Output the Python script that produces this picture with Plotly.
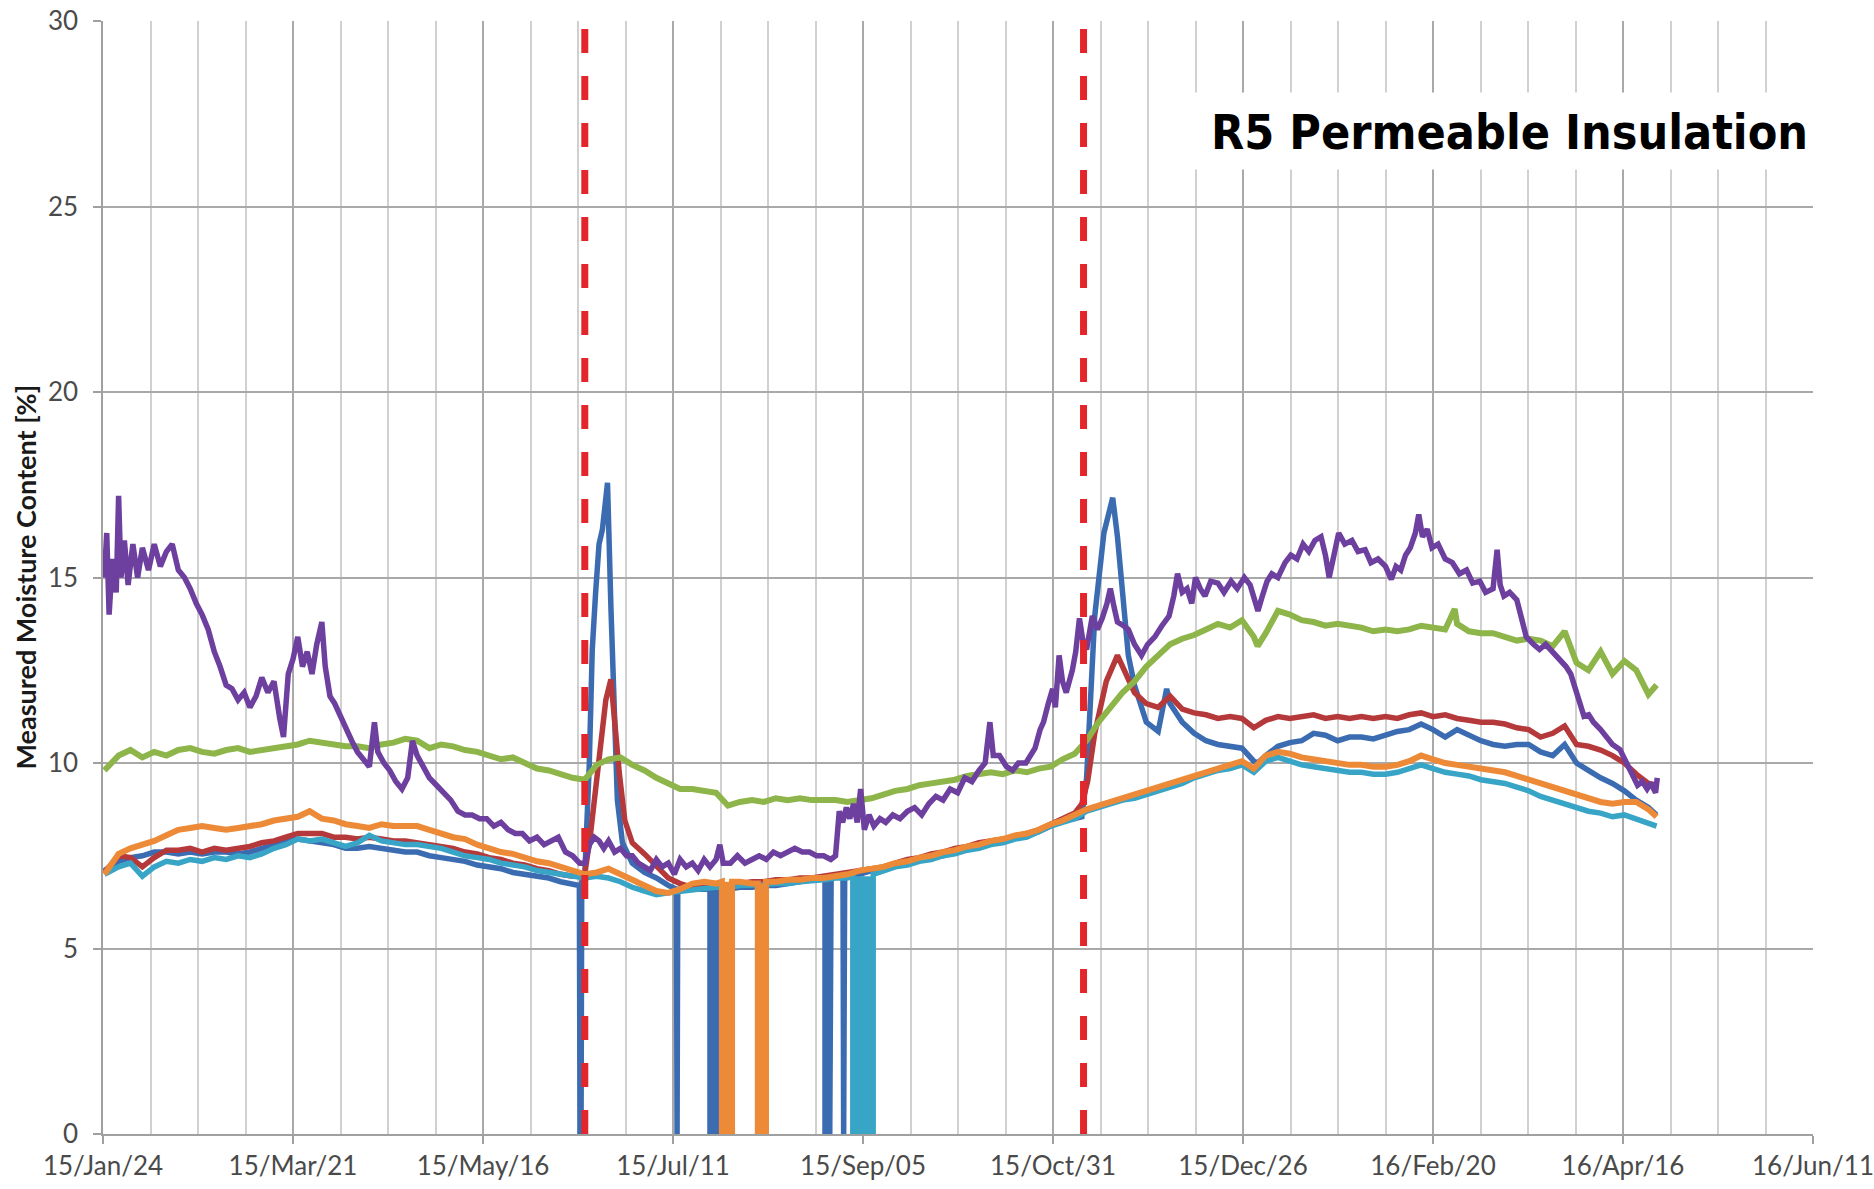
import pandas as pd
import plotly.graph_objects as go

START = "2015-01-24"
END = "2016-06-11"
EVENT_DATES = ["2015-06-15", "2015-11-09"]
TITLE = "R5 Permeable Insulation"
Y_TITLE = "Measured Moisture Content [%]"

# sample positions (days after 2015-01-24)
GRID_DAYS = [
    0.4, 4.6, 8.1, 11.6, 15.1, 18.7, 22.2, 25.7, 29.2, 32.8,
    36.3, 39.8, 43.3, 46.8, 50.4, 53.9, 57.4, 60.9, 64.5, 68.0,
    71.5, 75.0, 78.5, 82.1, 85.6, 89.1, 92.6, 96.2, 99.7, 103.2,
    106.7, 110.3, 113.8, 117.3, 120.8, 124.3, 127.9, 131.4, 134.9, 138.4,
    142.0, 145.5, 149.0, 152.5, 156.0, 159.6, 163.1, 166.6, 170.1, 173.7,
    177.2, 180.7, 184.2, 187.7, 191.3, 194.8, 198.3, 201.8, 205.4, 208.9,
    212.4, 215.9, 219.4, 223.0, 226.5, 230.0, 233.5, 237.1, 240.6, 244.1,
    247.6, 251.1, 254.7, 258.2, 261.7, 265.2, 268.8, 272.3, 275.8, 279.3,
    282.8, 286.4, 289.9, 293.4, 296.9, 300.5, 304.0, 307.5, 311.0, 314.5,
    318.1, 321.6, 325.1, 328.6, 332.2, 335.7, 339.2, 342.7, 346.3, 349.8,
    353.3, 356.8, 360.3, 363.9, 367.4, 370.9, 374.4, 378.0, 381.5, 385.0,
    388.5, 392.0, 395.6, 399.1, 402.6, 406.1, 409.7, 413.2, 416.7, 420.2,
    423.7, 427.3, 430.8, 434.3, 437.8, 441.4, 444.9, 448.4, 451.9, 455.5,
    457.9,
]

BLUE_VALS = [
    7.1, 7.35, 7.45, 7.5, 7.6, 7.6, 7.55, 7.6, 7.55, 7.6,
    7.6, 7.55, 7.6, 7.7, 7.8, 7.9, 7.95, 7.9, 7.85, 7.8,
    7.7, 7.7, 7.75, 7.7, 7.65, 7.6, 7.6, 7.5, 7.45, 7.4,
    7.35, 7.25, 7.2, 7.15, 7.05, 7.0, 6.95, 6.9, 6.8, 6.75,
    7.0, None, None, None, 7.3, 7.05, 6.9, 6.7, 6.6, 6.6,
    6.6, None, 6.6, 6.65, 6.65, 6.7, 6.7, 6.75, 6.8, 6.85,
    6.9, 6.95, 7.0, 7.0, 7.1, 7.15, 7.25, 7.3, 7.4, 7.45,
    7.5, 7.6, 7.7, 7.75, 7.85, 7.9, 8.0, 8.05, 8.15, 8.3,
    8.45, 8.5, None, None, None, None, 12.1, 11.1, 10.85, 11.6,
    11.1, 10.8, 10.6, 10.5, 10.45, 10.4, 10.05, 10.2, 10.45, 10.55,
    10.6, 10.8, 10.75, 10.6, 10.7, 10.7, 10.65, 10.75, 10.85, 10.9,
    11.05, 10.9, 10.7, 10.9, 10.75, 10.6, 10.5, 10.45, 10.5, 10.5,
    10.3, 10.2, 10.5, 10.0, 9.8, 9.6, 9.45, 9.25, 9.0, 8.8,
    8.6,
]
BLUE_EXTRA_DAYS = [
    140.4, 140.6, 140.9, 141.1,
    143.3, 144.2, 145.2, 146.2, 147.2, 148.0, 148.7, 149.7, 150.7, 151.6, 153.1,
    169.0, 169.2, 169.4,
    178.9, 178.9, 179.5, 180.1, 180.7, 181.3, 181.3,
    212.8, 212.8, 213.5, 214.2, 214.6,
    218.1, 218.3, 218.6,
    288.5, 289.9, 292.3, 295.0, 297.6, 299.0, 300.9, 302.2, 313.5, 340.3,
]
BLUE_EXTRA_VALS = [
    6.7, 0, 0, 6.8,
    9.9, 13.05, 14.6, 15.9, 16.3, 16.9, 17.55, 14.2, 10.8, 9.0, 7.85,
    6.6, 0, 6.6,
    6.6, 0, 6.6, 0, 6.6, 0, 6.6,
    6.95, 0, 6.95, 0, 6.95,
    7.0, 0, 7.0,
    8.55, 9.6, 13.96, 16.2, 17.15, 16.1, 13.96, 12.9, 12.0, 10.0,
]

RED_VALS = [
    7.05, 7.5, 7.45, 7.2, 7.45, 7.65, 7.65, 7.7, 7.6, 7.7,
    7.65, 7.7, 7.75, 7.85, 7.9, 8.0, 8.1, 8.1, 8.1, 8.0,
    8.0, 7.95, 8.0, 7.95, 7.9, 7.9, 7.85, 7.8, 7.75, 7.7,
    7.6, 7.55, 7.45, 7.4, 7.3, 7.25, 7.15, 7.1, 7.0, 6.95,
    7.0, None, None, None, 7.85, 7.55, 7.2, 6.9, 6.75, 6.65,
    6.65, 6.75, 6.7, 6.75, 6.8, 6.8, 6.85, 6.85, 6.9, 6.9,
    6.95, 7.0, 7.05, 7.1, 7.15, 7.2, 7.3, 7.4, 7.45, 7.55,
    7.6, 7.7, 7.75, 7.85, 7.9, 7.95, 8.0, 8.1, 8.2, 8.35,
    8.5, 8.65, None, None, None, None, 11.9, 11.6, 11.5, 11.8,
    11.45, 11.35, 11.3, 11.2, 11.25, 11.2, 10.95, 11.15, 11.25, 11.2,
    11.25, 11.3, 11.2, 11.25, 11.2, 11.25, 11.2, 11.25, 11.2, 11.3,
    11.35, 11.25, 11.3, 11.2, 11.15, 11.1, 11.1, 11.05, 10.95, 10.9,
    10.7, 10.8, 11.0, 10.5, 10.45, 10.35, 10.2, 10.0, 9.7, 9.45,
    9.4,
]
RED_EXTRA_DAYS = [143.7, 146.2, 148.2, 149.7, 150.6, 152.2, 153.8,
                  288.5, 290.2, 292.3, 295.7, 299.0, 302.2]
RED_EXTRA_VALS = [8.1, 10.1, 11.7, 12.25, 11.25, 9.7, 8.45,
                  8.9, 9.5, 10.8, 12.2, 12.9, 12.3]

GREEN_VALS = [
    9.8, 10.2, 10.35, 10.15, 10.3, 10.2, 10.35, 10.4, 10.3, 10.25,
    10.35, 10.4, 10.3, 10.35, 10.4, 10.45, 10.5, 10.6, 10.55, 10.5,
    10.45, 10.45, 10.4, 10.5, 10.55, 10.65, 10.6, 10.4, 10.5, 10.45,
    10.35, 10.3, 10.2, 10.1, 10.15, 10.0, 9.85, 9.8, 9.7, 9.6,
    9.55, 9.95, 10.1, 10.15, 9.95, 9.8, 9.6, 9.45, 9.3, 9.3,
    9.25, 9.2, 8.85, 8.95, 9.0, 8.95, 9.05, 9.0, 9.05, 9.0,
    9.0, 9.0, 8.95, 9.0, 9.05, 9.15, 9.25, 9.3, 9.4, 9.45,
    9.5, 9.55, 9.65, 9.7, 9.75, 9.7, 9.8, 9.75, 9.85, 9.9,
    10.1, 10.25, 10.6, 11.1, 11.5, 11.9, 12.2, 12.6, 12.9, 13.2,
    13.35, 13.45, 13.6, 13.75, 13.65, 13.85, 13.4, 13.5, 14.1, 14.0,
    13.85, 13.8, 13.7, 13.75, 13.7, 13.65, 13.55, 13.6, 13.55, 13.6,
    13.7, 13.65, 13.6, 13.75, 13.55, 13.5, 13.5, 13.4, 13.3, 13.35,
    13.3, 13.15, 13.55, 12.7, 12.5, 13.0, 12.4, 12.75, 12.5, 11.85,
    12.1,
]
GREEN_EXTRA_DAYS = [340.3, 398.4]
GREEN_EXTRA_VALS = [13.15, 14.15]

PURPLE_DAYS = [
    0.4, 1.1, 1.8, 2.8, 3.9, 4.6, 5.3, 6.3, 7.4, 8.8, 10.2, 11.6, 13.4, 15.1, 16.9,
    18.7, 20.4, 22.2, 24.0, 25.7, 27.5, 29.2, 31.0, 32.8, 34.5, 36.3, 38.0, 39.8,
    41.6, 43.3, 45.1, 46.8, 48.6, 50.4, 52.1, 53.2, 54.6, 56.0, 57.4, 58.8, 60.2,
    61.6, 63.0, 64.5, 65.5, 66.9, 68.3, 69.7, 71.5, 73.3, 75.0, 76.8, 78.5, 80.0,
    81.0, 82.8, 84.5, 86.3, 88.1, 89.8, 91.2, 92.6, 94.4, 96.2, 98.3, 100.4, 102.5,
    104.6, 106.7, 108.8, 111.0, 113.1, 115.2, 117.3, 119.4, 121.5, 123.6, 125.7,
    127.9, 130.0, 132.1, 134.2, 136.3, 138.4, 140.5, 142.0, 143.4, 144.8, 146.2,
    147.6, 149.0, 150.8, 152.5, 154.3, 156.0, 157.8, 159.6, 161.3, 163.1, 164.8,
    166.6, 168.4, 170.1, 171.9, 173.7, 175.4, 177.2, 178.9, 180.7, 181.8, 182.8,
    184.9, 187.0, 189.2, 191.3, 193.4, 195.5, 197.6, 199.7, 201.8, 203.9, 206.1,
    208.2, 210.3, 212.4, 214.5, 215.9, 217.0, 218.0, 219.1, 220.1, 221.2, 222.3,
    223.3, 224.4, 225.8, 227.2, 229.0, 230.7, 232.8, 234.9, 237.1, 239.2, 241.3,
    243.4, 245.5, 247.6, 249.7, 251.9, 254.0, 256.1, 258.2, 260.0, 261.4, 262.4,
    264.2, 266.3, 268.1, 269.8, 272.0, 273.7, 274.7, 276.2, 277.2, 278.6, 279.9,
    280.7, 281.8, 282.8, 283.9, 285.7, 286.7, 287.8, 288.8, 289.9, 291.6, 293.1,
    294.5, 295.9, 296.9, 298.0, 299.0, 300.8, 302.2, 304.0, 306.1, 307.9, 310.0,
    312.1, 314.2, 315.6, 316.7, 318.1, 319.5, 320.9, 322.0, 323.4, 324.8, 326.5,
    328.6, 330.4, 332.5, 334.3, 336.4, 338.1, 339.2, 340.4, 341.7, 343.1, 344.5,
    346.3, 348.4, 350.1, 351.9, 353.7, 355.4, 357.2, 359.0, 360.3, 361.4, 362.8,
    364.2, 366.0, 368.1, 369.9, 372.0, 373.7, 375.8, 378.0, 379.7, 381.1, 382.5,
    383.9, 385.3, 386.8, 387.8, 388.9, 390.3, 391.7, 393.5, 395.6, 397.7, 399.8,
    401.9, 403.7, 405.8, 407.5, 409.7, 410.9, 411.8, 412.9, 414.6, 416.7, 418.1,
    419.5, 421.6, 423.4, 425.2, 427.3, 429.1, 431.2, 432.6, 434.0, 435.4, 436.5,
    437.9, 439.3, 441.4, 443.2, 444.9, 447.1, 448.4, 449.8, 451.2, 452.3, 453.7,
    455.1, 456.2, 457.6, 458.1,
]
PURPLE_VALS = [
    15.0, 16.2, 14.0, 15.5, 14.6, 17.2, 15.0, 16.0, 14.8, 15.9, 15.0, 15.8, 15.2, 15.9, 15.3,
    15.7, 15.9, 15.2, 15.0, 14.7, 14.3, 14.0, 13.6, 13.0, 12.6, 12.1, 12.0, 11.7,
    11.9, 11.5, 11.8, 12.3, 11.9, 12.2, 11.2, 10.7, 12.4, 12.8, 13.4, 12.6, 13.0,
    12.4, 13.2, 13.8, 12.6, 11.8, 11.6, 11.3, 11.0, 10.6, 10.3, 10.1, 9.9, 11.1,
    10.3, 10.0, 9.8, 9.5, 9.3, 9.6, 10.6, 10.2, 9.9, 9.6, 9.4, 9.2, 9.0,
    8.7, 8.6, 8.6, 8.5, 8.5, 8.3, 8.4, 8.2, 8.1, 8.1, 7.9,
    8.0, 7.8, 7.9, 8.0, 7.6, 7.5, 7.3, 7.3, 7.8, 8.0, 7.9,
    7.7, 7.9, 7.6, 7.7, 7.5, 7.5, 7.3, 7.2, 7.1, 7.4, 7.2,
    7.3, 7.0, 7.4, 7.2, 7.3, 7.1, 7.4, 7.2, 7.4, 7.8, 7.3,
    7.3, 7.5, 7.3, 7.4, 7.5, 7.4, 7.6, 7.5, 7.6, 7.7, 7.6,
    7.6, 7.5, 7.5, 7.4, 7.5, 8.7, 8.4, 8.8, 8.5, 8.9, 8.4,
    9.3, 8.2, 8.6, 8.3, 8.5, 8.4, 8.6, 8.5, 8.7, 8.8, 8.6,
    8.9, 9.1, 9.0, 9.3, 9.2, 9.6, 9.5, 9.8, 10.0, 11.1, 10.2,
    10.2, 9.9, 9.8, 10.0, 10.0, 10.3, 10.4, 10.9, 11.1, 11.6, 12.0,
    11.5, 12.9, 12.2, 11.9, 12.5, 13.0, 13.9, 13.3, 13.06, 13.96, 13.6,
    13.9, 14.3, 14.7, 14.2, 13.8, 13.7, 13.6, 13.2, 12.9, 13.2, 13.4,
    13.7, 13.96, 14.5, 15.1, 14.6, 14.7, 14.3, 15.0, 14.7, 14.5, 14.9,
    14.85, 14.6, 14.9, 14.7, 15.0, 14.8, 14.5, 14.1, 14.5, 14.9, 15.1,
    15.0, 15.4, 15.6, 15.5, 15.9, 15.7, 16.0, 16.1, 15.6, 15.0, 15.7,
    16.2, 15.9, 16.0, 15.7, 15.75, 15.4, 15.5, 15.3, 14.95, 15.3, 15.2,
    15.6, 15.8, 16.2, 16.7, 16.1, 16.3, 15.8, 15.9, 15.5, 15.4, 15.1,
    15.2, 14.85, 14.9, 14.6, 14.7, 15.75, 14.8, 14.5, 14.6, 14.4, 13.9,
    13.4, 13.2, 13.06, 13.2, 13.0, 12.8, 12.6, 12.4, 12.0, 11.6, 11.26,
    11.3, 11.1, 10.9, 10.7, 10.5, 10.36, 10.1, 9.9, 9.6, 9.4, 9.5,
    9.3, 9.46, 9.2, 9.6,
]

TEAL_VALS = [
    7.0, 7.2, 7.3, 6.95, 7.2, 7.35, 7.3, 7.4, 7.35, 7.45,
    7.4, 7.5, 7.45, 7.55, 7.7, 7.8, 7.95, 7.9, 7.95, 7.85,
    7.75, 7.85, 8.05, 7.9, 7.85, 7.8, 7.8, 7.75, 7.7, 7.6,
    7.5, 7.45, 7.4, 7.3, 7.25, 7.2, 7.1, 7.05, 7.0, 6.95,
    6.9, 6.95, 6.9, 6.8, 6.65, 6.55, 6.45, 6.5, 6.55, 6.6,
    6.62, 6.65, 6.65, 6.7, 6.7, 6.72, 6.75, 6.75, 6.8, 6.82,
    6.85, 6.9, 6.9, None, None, 7.1, 7.2, 7.25, 7.35, 7.4,
    7.5, 7.55, 7.65, 7.7, 7.8, 7.85, 7.95, 8.0, 8.15, 8.3,
    8.4, 8.5, 8.7, 8.8, 8.9, 9.0, 9.05, 9.15, 9.25, 9.35,
    9.45, 9.6, 9.7, 9.8, 9.85, 9.95, 9.75, 10.05, 10.15, 10.05,
    9.95, 9.9, 9.85, 9.8, 9.75, 9.75, 9.7, 9.7, 9.75, 9.85,
    9.95, 9.85, 9.75, 9.7, 9.65, 9.55, 9.5, 9.45, 9.35, 9.25,
    9.1, 9.0, 8.9, 8.8, 8.7, 8.65, 8.55, 8.6, 8.5, 8.4,
    8.3,
]
TEAL_EXTRA_DAYS = [221.0, 221.0, 221.6, 222.2, 222.8, 223.4, 224.0, 224.6,
                   225.2, 225.8, 226.4, 227.0, 227.0]
TEAL_EXTRA_VALS = [6.95, 0, 6.95, 0, 6.95, 0, 6.95, 0, 6.95, 0, 6.95, 0, 7.0]

ORANGE_VALS = [
    7.0, 7.55, 7.7, 7.8, 7.9, 8.05, 8.2, 8.25, 8.3, 8.25,
    8.2, 8.25, 8.3, 8.35, 8.45, 8.5, 8.55, 8.7, 8.5, 8.45,
    8.35, 8.3, 8.25, 8.35, 8.3, 8.3, 8.3, 8.2, 8.1, 8.0,
    7.95, 7.8, 7.7, 7.6, 7.55, 7.45, 7.35, 7.3, 7.2, 7.1,
    7.0, 7.05, 7.15, 7.0, 6.85, 6.7, 6.55, 6.5, 6.6, 6.75,
    6.8, 6.75, None, 6.8, 6.75, None, 6.8, 6.85, 6.85, 6.9,
    6.9, 6.95, 7.0, 7.1, 7.15, 7.2, 7.3, 7.35, 7.45, 7.5,
    7.6, 7.65, 7.75, 7.8, 7.9, 7.95, 8.05, 8.1, 8.2, 8.35,
    8.45, 8.6, 8.75, 8.85, 8.95, 9.05, 9.15, 9.25, 9.35, 9.45,
    9.55, 9.65, 9.75, 9.85, 9.95, 10.05, 9.85, 10.2, 10.3, 10.25,
    10.15, 10.1, 10.05, 10.0, 9.95, 9.95, 9.9, 9.9, 9.95, 10.05,
    10.2, 10.1, 10.0, 9.95, 9.9, 9.85, 9.8, 9.75, 9.65, 9.55,
    9.45, 9.35, 9.25, 9.15, 9.05, 8.95, 8.9, 8.95, 8.95, 8.75,
    8.55,
]
ORANGE_EXTRA_DAYS = [182.4, 182.4, 183.0, 183.6, 184.2, 184.8, 185.4, 185.4,
                     193.0, 193.0, 193.6, 194.2, 194.8, 195.4, 195.4]
ORANGE_EXTRA_VALS = [6.8, 0, 6.8, 0, 6.8, 0, 0, 6.8,
                     6.75, 0, 6.75, 0, 6.75, 0, 6.8]

COLORS = {
    "blue": "#3b6cb2",
    "red": "#b5393a",
    "green": "#8db54a",
    "purple": "#6d3f9f",
    "teal": "#38a5c7",
    "orange": "#ec8a37",
}
WIDTHS = {"blue": 5.5, "red": 5.5, "green": 6.0, "purple": 5.5,
          "teal": 5.5, "orange": 6.0}

T0 = pd.Timestamp(START)


def merged(grid_vals, extra_days=(), extra_vals=()):
    if len(grid_vals) != len(GRID_DAYS):
        raise ValueError(f"grid length {len(grid_vals)} != {len(GRID_DAYS)}")
    if len(extra_days) != len(extra_vals):
        raise ValueError("extra length mismatch")
    pts = [(d, v) for d, v in zip(GRID_DAYS, grid_vals) if v is not None]
    pts += list(zip(extra_days, extra_vals))
    pts.sort(key=lambda p: p[0])
    xs = [T0 + pd.Timedelta(days=d) for d, _ in pts]
    ys = [v for _, v in pts]
    return xs, ys


if len(PURPLE_DAYS) != len(PURPLE_VALS):
    raise ValueError(f"purple {len(PURPLE_DAYS)} vs {len(PURPLE_VALS)}")

series = [
    ("blue", merged(BLUE_VALS, BLUE_EXTRA_DAYS, BLUE_EXTRA_VALS)),
    ("red", merged(RED_VALS, RED_EXTRA_DAYS, RED_EXTRA_VALS)),
    ("green", merged(GREEN_VALS, GREEN_EXTRA_DAYS, GREEN_EXTRA_VALS)),
    ("purple", ([T0 + pd.Timedelta(days=d) for d in PURPLE_DAYS], PURPLE_VALS)),
    ("teal", merged(TEAL_VALS, TEAL_EXTRA_DAYS, TEAL_EXTRA_VALS)),
    ("orange", merged(ORANGE_VALS, ORANGE_EXTRA_DAYS, ORANGE_EXTRA_VALS)),
]

fig = go.Figure()
for name, (xs, ys) in series:
    fig.add_trace(go.Scatter(x=xs, y=ys, mode="lines", name=name,
                             line=dict(color=COLORS[name], width=WIDTHS[name]),
                             hoverinfo="skip"))

for d in EVENT_DATES:
    fig.add_shape(type="line", xref="x", yref="paper", x0=d, x1=d, y0=0, y1=1,
                  line=dict(color="#e3262b", width=7, dash="24px,23px"),
                  layer="above")

# title box
fig.add_shape(type="rect", xref="paper", yref="paper",
              x0=0.6386, x1=1.002, y0=0.8665, y1=0.9357,
              fillcolor="white", line=dict(width=0), layer="above")
fig.add_annotation(xref="paper", yref="paper", x=0.9982, y=0.9005,
                   xanchor="right", yanchor="middle", showarrow=False,
                   text=f"<b>{TITLE}</b>",
                   font=dict(family="Liberation Sans Narrow, DejaVu Sans Condensed, DejaVu Sans, sans-serif",
                             size=48, color="#000000"))

fig.add_annotation(xref="paper", yref="paper", x=-0.0456, y=0.5,
                   xanchor="center", yanchor="middle", showarrow=False,
                   textangle=-90, text=f"<b>{Y_TITLE}</b>",
                   font=dict(family="Lato, sans-serif", size=27, color="#1a1a1a"))

DAY_MS = 86400000
tickfont = dict(family="Lato, sans-serif", size=26, color="#4a4a4a")
fig.update_layout(
    width=1874, height=1189,
    margin=dict(l=103, r=61, t=21, b=55),
    plot_bgcolor="white", paper_bgcolor="white",
    showlegend=False,
    xaxis=dict(
        type="date", range=[START, END], tick0=START, dtick=56 * DAY_MS,
        tickformat="%y/%b/%d", tickfont=tickfont, automargin=False,
        showgrid=True, gridcolor="#a9a9a9", gridwidth=1.5,
        minor=dict(tick0=START, dtick=14 * DAY_MS, showgrid=True,
                   gridcolor="#d0d0d0", gridwidth=1.5),
        ticks="outside", ticklen=8, tickcolor="#a0a0a0", tickwidth=1.5,
        showline=True, linecolor="#a0a0a0", linewidth=1.5, zeroline=False,
    ),
    yaxis=dict(
        range=[0, 30], tick0=0, dtick=5, tickfont=tickfont, automargin=False,
        showgrid=True, gridcolor="#a9a9a9", gridwidth=1.5,
        ticks="outside", ticklen=8, tickcolor="#a0a0a0", tickwidth=1.5,
        showline=True, linecolor="#a0a0a0", linewidth=1.5, zeroline=False,
        ticklabelstandoff=10,
    ),
)

fig.write_html("out.html",
               config={"displayModeBar": False},
               post_script="document.body.style.margin='0px';"
                           "document.body.style.overflow='hidden';")
